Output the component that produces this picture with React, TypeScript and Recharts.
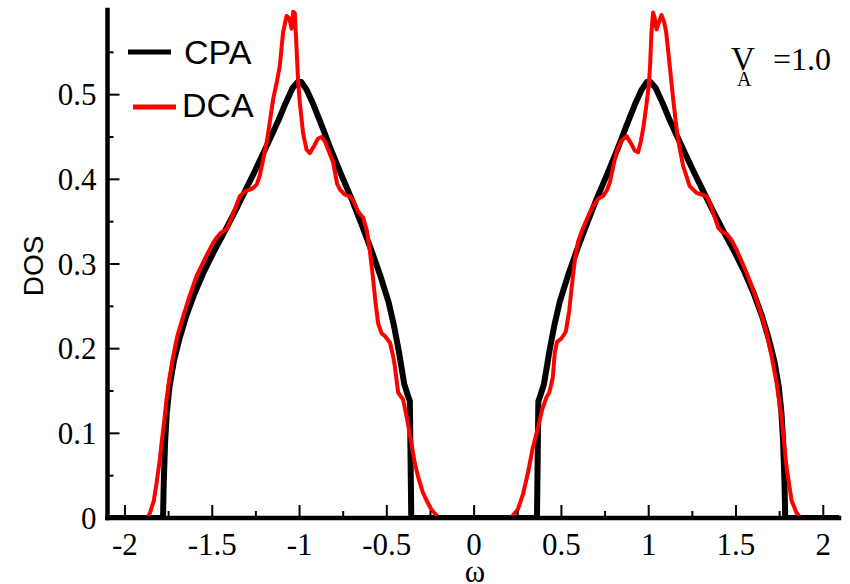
import React from 'react';
import { LineChart, Line, XAxis, YAxis, Legend } from 'recharts';

// ---- data ----
const SERIES_NAMES = ['CPA', 'DCA'];
const SERIES_COLORS = ['#000000', '#ff0000'];

const X_TICKS = [-2, -1.75, -1.5, -1.25, -1, -0.75, -0.5, -0.25, 0, 0.25, 0.5, 0.75, 1, 1.25, 1.5, 1.75, 2];
const X_LABELS = ['-2', '', '-1.5', '', '-1', '', '-0.5', '', '0', '', '0.5', '', '1', '', '1.5', '', '2'];
const Y_TICKS = [0, 0.05, 0.1, 0.15, 0.2, 0.25, 0.3, 0.35, 0.4, 0.45, 0.5, 0.55];
const Y_LABELS = ['0', '', '0.1', '', '0.2', '', '0.3', '', '0.4', '', '0.5', ''];

const CPA_OMEGA = [
  -2.1, -1.782, -1.778, -1.77, -1.76, -1.745, -1.72, -1.69, -1.65, -1.6, -1.55, -1.49, -1.43, -1.37, -1.31,
  -1.26, -1.21, -1.16, -1.12, -1.08, -1.04, -1.01, -0.99, -0.96, -0.92, -0.87, -0.82, -0.76, -0.7, -0.645,
  -0.59, -0.54, -0.49, -0.46, -0.433, -0.4, -0.38, -0.368, -0.36,
  0.36, 0.368, 0.38, 0.4, 0.433, 0.46, 0.49, 0.54, 0.59, 0.645, 0.7, 0.76, 0.82, 0.87, 0.92, 0.96, 0.99,
  1.01, 1.04, 1.08, 1.12, 1.16, 1.21, 1.26, 1.31, 1.37, 1.43, 1.49, 1.55, 1.6, 1.65, 1.69, 1.72, 1.745,
  1.76, 1.77, 1.778, 1.782, 2.09,
];
const CPA_DOS = [
  0, 0, 0.04, 0.09, 0.125, 0.155, 0.185, 0.21, 0.238, 0.266, 0.29, 0.315, 0.338, 0.362, 0.387,
  0.408, 0.43, 0.452, 0.47, 0.49, 0.508, 0.515, 0.515, 0.506, 0.488, 0.462, 0.435, 0.405, 0.376, 0.347,
  0.317, 0.288, 0.255, 0.228, 0.199, 0.158, 0.145, 0.138, 0,
  0, 0.138, 0.145, 0.158, 0.199, 0.228, 0.255, 0.288, 0.317, 0.347, 0.376, 0.405, 0.435, 0.462, 0.488, 0.506, 0.515,
  0.515, 0.508, 0.49, 0.47, 0.452, 0.43, 0.408, 0.387, 0.362, 0.338, 0.315, 0.29, 0.266, 0.238, 0.21, 0.185, 0.155,
  0.125, 0.09, 0.04, 0, 0,
];

const DCA_OMEGA = [
  -2.1, -1.87, -1.857, -1.835, -1.819, -1.8, -1.79, -1.775, -1.762, -1.745, -1.724, -1.7, -1.667, -1.63, -1.59,
  -1.545, -1.495, -1.475, -1.45, -1.418, -1.395, -1.37, -1.342, -1.31, -1.27, -1.245, -1.227, -1.208, -1.189,
  -1.17, -1.151, -1.13, -1.113, -1.094, -1.074, -1.058, -1.046, -1.036, -1.027, -1.017, -1.008, -0.998, -0.98,
  -0.96, -0.941, -0.915, -0.895, -0.874, -0.855, -0.83, -0.808, -0.785, -0.769, -0.74, -0.712, -0.693, -0.665,
  -0.636, -0.615, -0.597, -0.58, -0.565, -0.55, -0.53, -0.511, -0.482, -0.465, -0.454, -0.435, -0.407, -0.385,
  -0.359, -0.34, -0.32, -0.295, -0.273, -0.245, -0.215, -0.2,
  0.2, 0.214, 0.25, 0.28, 0.31, 0.335, 0.36, 0.39, 0.415, 0.43, 0.45, 0.462, 0.475, 0.5, 0.525, 0.545, 0.56,
  0.577, 0.595, 0.615, 0.65, 0.68, 0.71, 0.737, 0.76, 0.777, 0.8, 0.82, 0.845, 0.873, 0.9, 0.92, 0.939, 0.955,
  0.97, 0.985, 1.0, 1.008, 1.016, 1.025, 1.035, 1.045, 1.058, 1.073, 1.088, 1.1, 1.12, 1.14, 1.155, 1.168,
  1.197, 1.235, 1.274, 1.331, 1.35, 1.369, 1.398, 1.42, 1.445, 1.475, 1.503, 1.56, 1.617, 1.65, 1.675, 1.705,
  1.732, 1.76, 1.789, 1.818, 1.847, 1.87, 2.09,
];
const DCA_DOS = [
  0, 0, 0.006, 0.02, 0.041, 0.07, 0.089, 0.115, 0.14, 0.165, 0.191, 0.215, 0.238, 0.262, 0.286,
  0.305, 0.325, 0.331, 0.337, 0.341, 0.352, 0.365, 0.38, 0.386, 0.389, 0.394, 0.405, 0.424, 0.443,
  0.468, 0.495, 0.515, 0.534, 0.574, 0.593, 0.59, 0.578, 0.598, 0.596, 0.554, 0.515, 0.49, 0.455,
  0.435, 0.431, 0.44, 0.448, 0.45, 0.445, 0.432, 0.42, 0.395, 0.388, 0.382, 0.38, 0.375, 0.362,
  0.355, 0.34, 0.315, 0.285, 0.255, 0.23, 0.218, 0.215, 0.207, 0.192, 0.179, 0.148, 0.14, 0.118,
  0.088, 0.065, 0.048, 0.031, 0.021, 0.01, 0.003, 0,
  0, 0.001, 0.01, 0.028, 0.055, 0.082, 0.102, 0.128, 0.143, 0.148, 0.165, 0.195, 0.208, 0.212, 0.22, 0.245, 0.275,
  0.305, 0.326, 0.338, 0.355, 0.368, 0.377, 0.38, 0.387, 0.396, 0.418, 0.435, 0.446, 0.451, 0.442, 0.434, 0.432, 0.445,
  0.462, 0.485, 0.51, 0.535, 0.574, 0.597, 0.59, 0.577, 0.585, 0.594, 0.586, 0.574, 0.535, 0.495, 0.468, 0.447,
  0.416, 0.392, 0.384, 0.38, 0.372, 0.361, 0.343, 0.338, 0.336, 0.328, 0.317, 0.29, 0.258, 0.237, 0.219, 0.19,
  0.16, 0.12, 0.061, 0.021, 0.006, 0, 0,
];

const ANNOTATION_MAIN = 'V';
const ANNOTATION_SUB = 'A';
const ANNOTATION_REST = '=1.0';
const X_TITLE = 'ω';
const Y_TITLE = 'DOS';

const cpaData = CPA_OMEGA.map((w, i) => ({ w, v: CPA_DOS[i] }));
const dcaData = DCA_OMEGA.map((w, i) => ({ w, v: DCA_DOS[i] }));

const SERIF = "'Liberation Serif', 'DejaVu Serif', serif";
const SANS = "'Liberation Sans', Arial, sans-serif";
const serifStyle = { fontFamily: SERIF };
const sansStyle = { fontFamily: SANS };

const xLabelOf = (v: number) => {
  const i = X_TICKS.findIndex((t) => Math.abs(t - v) < 1e-9);
  return i >= 0 ? X_LABELS[i] : '';
};
const yLabelOf = (v: number) => {
  const i = Y_TICKS.findIndex((t) => Math.abs(t - v) < 1e-9);
  return i >= 0 ? Y_LABELS[i] : '';
};

const BottomTick = (props: any) => {
  const { x, y, payload } = props;
  const lab = xLabelOf(payload.value);
  const len = lab ? 13 : 7;
  return (
    <g>
      <line x1={x} y1={y} x2={x} y2={y - len} stroke="#000" strokeWidth={2} />
      {lab && (
        <text x={x} y={y + 37} textAnchor="middle" style={serifStyle} fontSize={31} fill="#000">
          {lab}
        </text>
      )}
    </g>
  );
};

const TopTick = (props: any) => {
  const { x, y, payload } = props;
  const len = xLabelOf(payload.value) ? 13 : 7;
  return <line x1={x} y1={y} x2={x} y2={y + len} stroke="#000" strokeWidth={2} />;
};

const LeftTick = (props: any) => {
  const { x, y, payload } = props;
  const lab = yLabelOf(payload.value);
  const len = lab ? 12 : 6;
  return (
    <g>
      <line x1={x} y1={y} x2={x + len} y2={y} stroke="#000" strokeWidth={2} />
      {lab && (
        <text x={x - 11} y={y} dy="0.34em" textAnchor="end" style={serifStyle} fontSize={31} fill="#000">
          {lab}
        </text>
      )}
    </g>
  );
};

const RightTick = (props: any) => {
  const { x, y, payload } = props;
  const len = yLabelOf(payload.value) ? 12 : 6;
  return <line x1={x} y1={y} x2={x - len} y2={y} stroke="#000" strokeWidth={2} />;
};

const axisLine = { stroke: '#000', strokeWidth: 4.5, strokeLinecap: 'square' as const };

const Overlay = () => (
  <svg width={850} height={584} style={{ position: 'absolute', left: 0, top: 0, pointerEvents: 'none' }}>
    <line x1={128} y1={52} x2={171} y2={52} stroke={SERIES_COLORS[0]} strokeWidth={5} />
    <text x={184} y={63.5} style={sansStyle} fontSize={34} fill="#000">
      {SERIES_NAMES[0]}
    </text>
    <line x1={133} y1={107} x2={176} y2={107} stroke={SERIES_COLORS[1]} strokeWidth={5} />
    <text x={182} y={117} style={sansStyle} fontSize={34} fill="#000">
      {SERIES_NAMES[1]}
    </text>
    <text x={731} y={70} style={serifStyle} fontSize={33} fill="#000">
      {ANNOTATION_MAIN}
    </text>
    <text x={737} y={86} style={serifStyle} fontSize={20} fill="#000">
      {ANNOTATION_SUB}
    </text>
    <text x={773} y={70} style={serifStyle} fontSize={32} fill="#000">
      {ANNOTATION_REST}
    </text>
    <text x={475} y={582} textAnchor="middle" style={serifStyle} fontSize={31} fill="#000">
      {X_TITLE}
    </text>
    <text
      x={33}
      y={266}
      textAnchor="middle"
      dy="0.36em"
      transform="rotate(-90 33 266)"
      style={sansStyle}
      fontSize={28}
      fill="#000"
    >
      {Y_TITLE}
    </text>
  </svg>
);

export default function App() {
  return (
    <div style={{ position: 'absolute', left: 0, top: 0, width: 850, height: 584, background: '#fff' }}>
      <LineChart width={850} height={584} margin={{ top: 10, right: 11, bottom: 0, left: 0 }}>
        <XAxis
          xAxisId={0}
          type="number"
          dataKey="w"
          domain={[-2.1, 2.09]}
          allowDataOverflow
          ticks={X_TICKS}
          interval={0}
          height={66}
          tickSize={0}
          tickMargin={0}
          tickLine={false}
          axisLine={axisLine}
          tick={BottomTick}
        />
        <XAxis
          xAxisId="top"
          orientation="top"
          type="number"
          dataKey="w"
          domain={[-2.1, 2.09]}
          allowDataOverflow
          ticks={X_TICKS}
          interval={0}
          height={0}
          tickSize={0}
          tickMargin={0}
          tickLine={false}
          axisLine={axisLine}
          tick={TopTick}
        />
        <YAxis
          yAxisId={0}
          type="number"
          domain={[0, 0.6]}
          allowDataOverflow
          ticks={Y_TICKS}
          interval={0}
          width={107.5}
          tickSize={0}
          tickMargin={0}
          tickLine={false}
          axisLine={axisLine}
          tick={LeftTick}
        />
        <YAxis
          yAxisId="right"
          orientation="right"
          type="number"
          domain={[0, 0.6]}
          allowDataOverflow
          ticks={Y_TICKS}
          interval={0}
          width={0}
          tickSize={0}
          tickMargin={0}
          tickLine={false}
          axisLine={axisLine}
          tick={RightTick}
        />
        <Line
          data={cpaData}
          dataKey="v"
          name={SERIES_NAMES[0]}
          type="linear"
          stroke={SERIES_COLORS[0]}
          strokeWidth={6}
          strokeLinejoin="round"
          dot={false}
          activeDot={false}
          isAnimationActive={false}
        />
        <Line
          data={dcaData}
          dataKey="v"
          name={SERIES_NAMES[1]}
          type="linear"
          stroke={SERIES_COLORS[1]}
          strokeWidth={4}
          strokeLinejoin="round"
          dot={false}
          activeDot={false}
          isAnimationActive={false}
        />
        <Legend
          layout="vertical"
          align="center"
          verticalAlign="middle"
          wrapperStyle={{ position: 'absolute', left: 0, top: 0, width: 850, height: 584, pointerEvents: 'none' }}
          content={() => <Overlay />}
        />
      </LineChart>
    </div>
  );
}
